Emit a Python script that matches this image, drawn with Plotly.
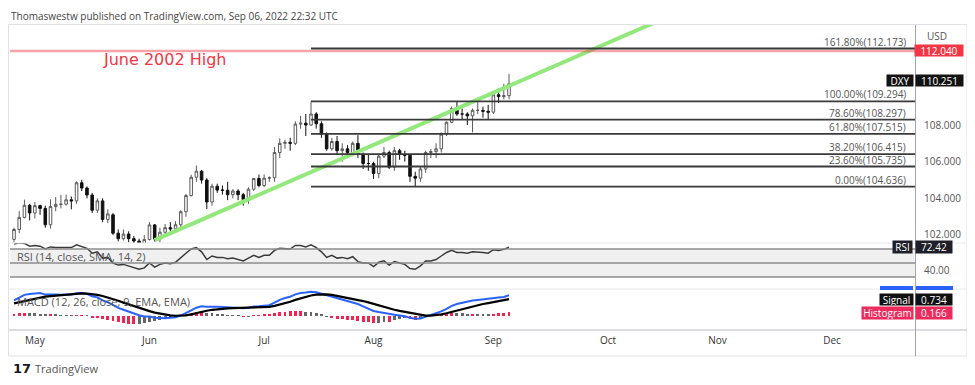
import plotly.graph_objects as go

W, H = 975, 385
OX, OY = 8, 8            # default page body margin
FW, FH = W - 2 * OX, H - 2 * OY
def px(x): return (x - OX) / FW
def py(y): return 1 - (y - OY) / FH

# ---------------- data ----------------
dates = ["2022-04-26","2022-04-27","2022-04-28","2022-04-29",
 "2022-05-02","2022-05-03","2022-05-04","2022-05-05","2022-05-06","2022-05-09","2022-05-10","2022-05-11","2022-05-12","2022-05-13",
 "2022-05-16","2022-05-17","2022-05-18","2022-05-19","2022-05-20","2022-05-23","2022-05-24","2022-05-25","2022-05-26","2022-05-27",
 "2022-05-30","2022-05-31","2022-06-01","2022-06-02","2022-06-03","2022-06-06","2022-06-07","2022-06-08","2022-06-09","2022-06-10",
 "2022-06-13","2022-06-14","2022-06-15","2022-06-16","2022-06-17","2022-06-20","2022-06-21","2022-06-22","2022-06-23","2022-06-24",
 "2022-06-27","2022-06-28","2022-06-29","2022-06-30","2022-07-01","2022-07-04","2022-07-05","2022-07-06","2022-07-07","2022-07-08",
 "2022-07-11","2022-07-12","2022-07-13","2022-07-14","2022-07-15","2022-07-18","2022-07-19","2022-07-20","2022-07-21","2022-07-22",
 "2022-07-25","2022-07-26","2022-07-27","2022-07-28","2022-07-29","2022-08-01","2022-08-02","2022-08-03","2022-08-04","2022-08-05",
 "2022-08-08","2022-08-09","2022-08-10","2022-08-11","2022-08-12","2022-08-15","2022-08-16","2022-08-17","2022-08-18","2022-08-19",
 "2022-08-22","2022-08-23","2022-08-24","2022-08-25","2022-08-26","2022-08-29","2022-08-30","2022-08-31","2022-09-01","2022-09-02",
 "2022-09-05","2022-09-06"]

opens = [101.76,102.30,102.96,103.62,103.20,103.60,103.45,102.56,103.55,103.67,103.68,103.92,103.86,104.85,104.56,104.18,103.35,103.86,
 102.85,103.10,102.10,101.80,102.05,101.80,101.67,101.55,101.75,102.55,101.78,102.15,102.40,102.33,102.56,103.27,104.15,105.15,
 105.48,105.00,103.80,104.66,104.45,104.44,104.20,104.40,104.20,103.94,104.50,105.08,104.70,105.10,105.12,106.50,107.00,107.05,
 107.00,108.05,108.10,108.00,108.60,108.07,107.50,106.70,107.10,106.60,106.70,106.50,107.00,106.40,105.90,105.90,105.36,106.30,
 106.50,105.70,106.60,106.40,106.35,105.20,105.10,105.60,106.50,106.55,106.70,107.50,108.15,108.90,108.60,108.60,108.50,108.80,
 108.80,108.75,108.70,109.65,109.55,109.60]
highs = [102.40,103.30,103.93,103.70,103.80,103.65,103.60,103.94,104.07,104.19,104.20,104.10,104.92,105.01,104.65,104.30,104.00,104.00,
 103.40,103.20,102.30,102.30,102.20,101.95,101.80,102.00,102.70,102.60,102.40,102.60,102.70,102.75,103.35,104.24,105.29,105.79,
 105.55,105.10,104.80,104.80,104.70,104.90,104.50,104.50,104.30,104.60,105.10,105.30,105.30,105.20,106.80,107.27,107.20,107.30,
 108.20,108.50,108.60,109.294,108.70,108.20,107.60,107.30,107.40,107.00,106.90,107.10,107.45,106.50,106.40,106.00,106.40,106.80,
 106.60,106.80,106.70,106.60,106.40,105.45,105.70,106.60,106.70,107.00,107.60,108.20,109.00,109.27,108.90,108.70,108.90,109.48,
 109.00,109.10,109.75,110.00,110.25,110.79]
lows = [101.60,102.10,102.90,102.80,102.90,103.10,102.40,102.35,103.30,103.45,103.60,103.40,103.70,104.40,104.00,103.20,103.20,102.70,
 102.65,102.00,101.65,101.70,101.60,101.45,101.40,101.35,101.70,101.64,101.60,101.90,102.20,102.25,102.40,103.00,104.10,104.90,
 104.80,103.41,103.60,104.30,104.20,103.90,104.00,103.90,103.60,103.70,104.40,104.60,104.60,104.90,104.90,106.20,106.70,106.60,
 106.90,107.80,107.40,107.96,107.80,107.30,106.60,106.60,106.40,106.00,106.30,106.30,106.20,105.60,105.50,105.06,105.10,106.20,
 105.60,105.50,106.10,106.00,104.90,104.636,104.90,105.40,106.20,106.20,106.50,107.40,108.10,108.50,108.30,108.00,107.60,108.60,
 108.40,108.30,108.60,109.20,109.40,109.40]
closes = [102.30,102.96,103.62,103.20,103.60,103.45,102.56,103.55,103.67,103.68,103.92,103.86,104.85,104.56,104.18,103.35,103.86,102.85,
 103.15,102.10,101.80,102.05,101.80,101.67,101.55,101.75,102.55,101.78,102.15,102.40,102.33,102.56,103.27,104.15,105.15,105.48,
 105.00,103.80,104.66,104.45,104.44,104.20,104.40,104.20,103.94,104.50,105.08,104.70,105.10,105.12,106.50,107.00,107.05,107.00,
 108.05,108.10,108.00,108.60,108.07,107.50,106.70,107.10,106.60,106.70,106.50,107.00,106.40,105.90,105.90,105.36,106.30,106.50,
 105.70,106.60,106.40,106.35,105.20,105.10,105.60,106.50,106.55,106.70,107.50,108.15,108.90,108.60,108.60,108.50,108.80,108.80,
 108.75,108.70,109.65,109.55,109.60,110.25]

rsi = [77,79,78,74,75,74,70,73,72,72,73,72,76,74,71,64,66,57,58,50,47,48,46,43,41,43,50,44,48,50,49,51,58,64,70,72,
 66,55,60,58,58,56,57,55,53,57,61,58,61,61,68,71,71,70,75,75,73,76,72,66,58,61,57,58,56,59,52,50,50,45,51,53,
 47,52,50,48,42,41,46,53,53,55,60,65,68,65,65,64,66,66,65,64,69,68,69.5,72.42]

macd = [0.68,0.80,0.92,0.96,0.99,1.00,0.93,0.94,0.93,0.92,0.93,0.93,0.99,1.00,0.96,0.86,0.81,0.68,0.60,0.47,0.35,0.27,0.18,0.10,
 0.03,-0.02,-0.02,-0.08,-0.10,-0.10,-0.08,-0.05,0.02,0.12,0.24,0.36,0.42,0.40,0.41,0.40,0.39,0.37,0.37,0.36,0.34,0.36,0.41,0.42,
 0.45,0.47,0.58,0.70,0.78,0.84,0.94,1.00,1.02,1.05,1.03,0.97,0.88,0.83,0.76,0.70,0.64,0.60,0.52,0.42,0.33,0.22,0.17,0.13,
 0.06,0.05,0.02,-0.01,-0.08,-0.12,-0.11,-0.04,0.03,0.10,0.20,0.31,0.44,0.52,0.58,0.62,0.67,0.70,0.72,0.73,0.78,0.80,0.83,0.90]
signal = [0.55,0.60,0.66,0.72,0.77,0.82,0.84,0.86,0.88,0.90,0.93,0.95,0.97,0.98,0.97,0.95,0.92,0.87,0.81,0.74,0.66,0.58,0.50,0.42,
 0.34,0.27,0.21,0.15,0.10,0.06,0.03,0.01,0.01,0.03,0.07,0.13,0.19,0.23,0.27,0.30,0.32,0.33,0.34,0.35,0.35,0.35,0.36,0.37,
 0.39,0.40,0.44,0.49,0.55,0.62,0.70,0.77,0.84,0.89,0.93,0.95,0.94,0.92,0.88,0.84,0.80,0.76,0.71,0.65,0.59,0.52,0.45,0.39,
 0.33,0.27,0.22,0.18,0.13,0.08,0.04,0.02,0.02,0.04,0.07,0.12,0.18,0.25,0.31,0.37,0.42,0.47,0.52,0.56,0.61,0.65,0.69,0.734]
hist = [0.10,0.12,0.14,0.13,0.12,0.10,0.07,0.07,0.05,0.04,0.03,0.02,0.03,0.03,0.01,-0.05,-0.07,-0.13,-0.17,-0.23,-0.28,-0.31,-0.33,-0.35,
 -0.34,-0.30,-0.24,-0.22,-0.18,-0.14,-0.09,-0.05,0.02,0.08,0.13,0.17,0.18,0.14,0.12,0.09,0.06,0.04,0.03,0.01,-0.02,-0.01,0.03,0.04,
 0.06,0.07,0.12,0.16,0.19,0.20,0.22,0.22,0.19,0.17,0.12,0.06,-0.03,-0.07,-0.11,-0.14,-0.16,-0.17,-0.21,-0.25,-0.28,-0.31,-0.29,-0.27,
 -0.28,-0.18,-0.12,-0.10,-0.15,-0.17,-0.10,-0.03,0.01,0.06,0.10,0.13,0.14,0.13,0.12,0.10,0.10,0.09,0.08,0.07,0.10,0.11,0.12,0.166]

month_ticks = ["2022-05-02","2022-06-01","2022-07-01","2022-08-01","2022-09-01","2022-10-03","2022-11-01","2022-12-01"]
month_labels = ["May","Jun","Jul","Aug","Sep","Oct","Nov","Dec"]
price_ticks = [102, 104, 106, 108]

fib_high = 109.294
fib_low = 104.636
fib_start = "2022-07-14"
fib_ratios = [0.0, 0.236, 0.382, 0.618, 0.786, 1.0, 1.618]
june2002_high = 112.04
trend_x = ["2022-06-02", "2022-10-14"]
trend_y = [101.72, 113.60]
last_price = 110.251
rsi_last = 72.42
signal_last = 0.734
hist_last = 0.166

# ---------------- layout geometry ----------------
X_RANGE = ["2022-04-25 05:30", "2022-12-22 22:00"]
XD = [px(10), px(915)]
MAIN = [py(243), py(25)]
RSID = [py(289), py(243)]
MACDD = [py(330), py(289)]
PRICE_RANGE = [101.563, 113.456]
RSI_RANGE = [12.86, 78.57]
MACD_RANGE = [-0.609, 1.174]

FONT = "Open Sans"
fig = go.Figure()

fig.add_trace(go.Candlestick(
    x=dates, open=opens, high=highs, low=lows, close=closes,
    xaxis="x", yaxis="y",
    increasing=dict(line=dict(color="#5a5a5a", width=1), fillcolor="white"),
    decreasing=dict(line=dict(color="#111111", width=1), fillcolor="#111111"),
    whiskerwidth=0, showlegend=False, hoverinfo="skip"))

fig.add_trace(go.Scatter(x=trend_x, y=trend_y, mode="lines", xaxis="x", yaxis="y",
                         line=dict(color="#93e87c", width=4), showlegend=False, hoverinfo="skip"))

fig.add_trace(go.Scatter(x=dates, y=rsi, mode="lines", xaxis="x2", yaxis="y2",
                         line=dict(color="#3a3a3a", width=1.5), showlegend=False, hoverinfo="skip"))

hist_colors = []
for i, h in enumerate(hist):
    prev = hist[i - 1] if i > 0 else 0
    hist_colors.append("#f5224f" if abs(h) >= abs(prev) else "#666666")
fig.add_trace(go.Bar(x=dates, y=hist, xaxis="x3", yaxis="y3", marker=dict(color=hist_colors, line=dict(width=0)),
                     width=0.55 * 86400000, showlegend=False, hoverinfo="skip"))
fig.add_trace(go.Scatter(x=dates, y=macd, mode="lines", xaxis="x3", yaxis="y3",
                         line=dict(color="#2962ff", width=2), showlegend=False, hoverinfo="skip"))
fig.add_trace(go.Scatter(x=dates, y=signal, mode="lines", xaxis="x3", yaxis="y3",
                         line=dict(color="#000000", width=2.2), showlegend=False, hoverinfo="skip"))

rb = [dict(bounds=["sat", "mon"])]
common_x = dict(range=X_RANGE, rangebreaks=rb, showgrid=False, zeroline=False, showline=False, fixedrange=True)
fig.update_layout(
    width=FW, height=FH, margin=dict(l=0, r=0, t=0, b=0),
    paper_bgcolor="white", plot_bgcolor="white",
    font=dict(family=FONT, color="#444"),
    xaxis=dict(domain=XD, anchor="y", showticklabels=False, rangeslider=dict(visible=False), **common_x),
    xaxis2=dict(domain=XD, anchor="y2", showticklabels=False, **common_x),
    xaxis3=dict(domain=XD, anchor="y3", tickvals=month_ticks, ticktext=month_labels, ticks="",
                tickfont=dict(size=10, color="#333", family=FONT), ticklabelstandoff=3, **common_x),
    yaxis=dict(domain=MAIN, anchor="x", side="right", range=PRICE_RANGE, tickvals=price_ticks, tickformat=".3f",
               showgrid=False, zeroline=False, showline=False, ticks="", ticklabelstandoff=8,
               tickfont=dict(size=10, color="#555")),
    yaxis2=dict(domain=RSID, anchor="x2", side="right", range=RSI_RANGE, tickvals=[40], ticktext=["40.00"],
                showgrid=False, zeroline=False, showline=False, ticks="", ticklabelstandoff=8,
                tickfont=dict(size=10, color="#555")),
    yaxis3=dict(domain=MACDD, anchor="x3", side="right", range=MACD_RANGE, showticklabels=False,
                showgrid=False, zeroline=False, showline=False),
    bargap=0,
)

shapes = []
# RSI band and levels
shapes.append(dict(type="rect", xref="paper", yref="y2", x0=px(10), x1=px(915), y0=30, y1=70,
                   fillcolor="rgba(0,0,0,0.06)", line=dict(width=0), layer="below"))
for lv in (70, 50, 30):
    shapes.append(dict(type="line", xref="paper", yref="y2", x0=px(10), x1=px(915), y0=lv, y1=lv,
                       line=dict(color="#8c8c8c", width=1.5)))
# June 2002 high line
shapes.append(dict(type="line", xref="paper", yref="y", x0=px(10), x1=px(915), y0=june2002_high, y1=june2002_high,
                   line=dict(color="rgba(242,54,69,0.45)", width=2.5)))
# Fibonacci levels
fib_levels = [fib_low + r * (fib_high - fib_low) for r in fib_ratios]
for lv in fib_levels:
    shapes.append(dict(type="line", xref="x", yref="y", x0=fib_start, x1=X_RANGE[1], y0=lv, y1=lv,
                       line=dict(color="#3a3a3a", width=1.8)))
# frame and separators
shapes.append(dict(type="rect", xref="paper", yref="paper", x0=px(8.5), x1=px(967), y0=py(356), y1=py(24.5),
                   line=dict(color="#dfe1e6", width=1)))
for yy, col in ((243, "#e6e8ec"), (289, "#e6e8ec"), (330, "#b8bbc2")):
    shapes.append(dict(type="line", xref="paper", yref="paper", x0=px(9), x1=px(967), y0=py(yy), y1=py(yy),
                       line=dict(color=col, width=1)))
shapes.append(dict(type="line", xref="paper", yref="paper", x0=px(915.5), x1=px(915.5), y0=py(356), y1=py(25),
                   line=dict(color="#a3a6ae", width=1)))
# partially hidden MACD value tag
shapes.append(dict(type="rect", xref="paper", yref="paper", x0=px(880), x1=px(913), y0=py(290), y1=py(286),
                   fillcolor="#2962ff", line=dict(width=0)))
shapes.append(dict(type="rect", xref="paper", yref="paper", x0=px(916), x1=px(953), y0=py(290), y1=py(286),
                   fillcolor="#2962ff", line=dict(width=0)))
fig.update_layout(shapes=shapes)

ann = []
ann.append(dict(x=px(10), y=py(8), xref="paper", yref="paper", xanchor="left", yanchor="top",
                text="Thomaswestw published on TradingView.com, Sep 06, 2022 22:32 UTC", showarrow=False,
                borderpad=0, font=dict(size=10, color="#444", family=FONT)))
ann.append(dict(x=px(165), y=py(60), xref="paper", yref="paper", xanchor="center", yanchor="middle",
                text="June 2002 High", showarrow=False, font=dict(size=16, color="#f23645", family="DejaVu Sans")))
for r, lv in zip(fib_ratios, fib_levels):
    ann.append(dict(x=px(907), y=lv, xref="paper", yref="y", xanchor="right", yanchor="bottom", yshift=-1,
                    borderpad=0, text=f"{r*100:.2f}%({lv:.3f})", showarrow=False,
                    font=dict(size=10, color="#555", family=FONT)))
ann.append(dict(x=px(937), y=py(36), xref="paper", yref="paper", xanchor="center", yanchor="middle",
                text="USD", showarrow=False, font=dict(size=10, color="#555", family=FONT)))

def tag(xc, w, yval, yref, text, bg, h=12):
    return dict(x=px(xc), y=yval, xref="paper", yref=yref, xanchor="center", yanchor="middle", text=text,
                showarrow=False, bgcolor=bg, width=w, height=h, borderpad=0,
                font=dict(size=10, color="white", family=FONT))

ann.append(tag(939, 48, june2002_high, "y", f"{june2002_high:.3f}", "#f23645", 11))
ann.append(tag(900, 26, last_price + 0.16, "y", "DXY", "#131313", 11))
ann.append(tag(939.5, 47, last_price + 0.16, "y", f"{last_price:.3f}", "#131313", 11))
ann.append(tag(902.5, 19, rsi_last, "y2", "RSI", "#1f1f2a", 12))
ann.append(tag(934, 36, rsi_last, "y2", f"{rsi_last:.2f}", "#1f1f2a", 12))
ann.append(tag(896.5, 33, signal_last, "y3", "Signal", "#111111", 11))
ann.append(tag(934, 36, signal_last, "y3", f"{signal_last:.3f}", "#111111", 11))
ann.append(tag(887.5, 51, hist_last - 0.05, "y3", "Histogram", "#ee2a5c", 12))
ann.append(tag(934, 36, hist_last - 0.05, "y3", f"{hist_last:.3f}", "#ee2a5c", 12))
ann.append(dict(x=px(15), y=py(256), xref="paper", yref="paper", xanchor="left", yanchor="middle",
                text="RSI (14, close, SMA, 14, 2)", showarrow=False, font=dict(size=11, color="#555", family=FONT)))
ann.append(dict(x=px(15), y=py(301), xref="paper", yref="paper", xanchor="left", yanchor="middle",
                text="MACD (12, 26, close, 9, EMA, EMA)", showarrow=False, font=dict(size=11, color="#555", family=FONT)))
ann.append(dict(x=px(11), y=py(368), xref="paper", yref="paper", xanchor="left", yanchor="middle",
                text="<b>17</b>", showarrow=False, font=dict(size=13, color="#131722", family="DejaVu Sans")))
ann.append(dict(x=px(33), y=py(368), xref="paper", yref="paper", xanchor="left", yanchor="middle",
                text="TradingView", showarrow=False, font=dict(size=11, color="#555", family=FONT)))
fig.update_layout(annotations=ann)

fig.write_html("out.html")
